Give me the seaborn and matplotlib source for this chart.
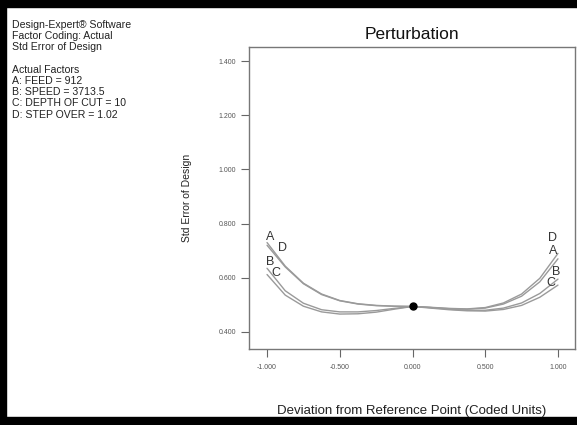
import numpy as np
import pandas as pd
import matplotlib
matplotlib.use("Agg")
import matplotlib.pyplot as plt
import seaborn as sns
from matplotlib.patches import Rectangle

# ---- data ----
deviation = [-1.0, -0.875, -0.75, -0.625, -0.5, -0.375, -0.25, -0.125, 0.0,
             0.125, 0.25, 0.375, 0.5, 0.625, 0.75, 0.875, 1.0]
se_A = [0.730, 0.643, 0.580, 0.540, 0.516, 0.504, 0.498, 0.495, 0.494,
        0.490, 0.486, 0.484, 0.488, 0.503, 0.532, 0.585, 0.670]
se_B = [0.635, 0.552, 0.506, 0.482, 0.474, 0.474, 0.479, 0.487, 0.494,
        0.490, 0.484, 0.480, 0.480, 0.488, 0.507, 0.542, 0.595]
se_C = [0.612, 0.536, 0.495, 0.474, 0.466, 0.467, 0.473, 0.484, 0.494,
        0.488, 0.482, 0.478, 0.477, 0.483, 0.498, 0.528, 0.573]
se_D = [0.720, 0.640, 0.578, 0.538, 0.515, 0.503, 0.497, 0.495, 0.494,
        0.491, 0.487, 0.485, 0.490, 0.507, 0.540, 0.598, 0.690]
factors = ["A", "B", "C", "D"]
ref_point = (0.0, 0.494)
y_ticks = [0.4, 0.6, 0.8, 1.0, 1.2, 1.4]
x_ticks = [-1.0, -0.5, 0.0, 0.5, 1.0]
info_lines = ["Design-Expert\u00ae Software", "Factor Coding: Actual", "Std Error of Design",
              "", "Actual Factors", "A: FEED = 912", "B: SPEED = 3713.5",
              "C: DEPTH OF CUT = 10", "D: STEP OVER = 1.02"]

series = {"A": se_A, "B": se_B, "C": se_C, "D": se_D}
df = pd.concat([pd.DataFrame({"Deviation": deviation, "SE": v, "Factor": k})
                for k, v in series.items()], ignore_index=True)

sns.set_style("white")
plt.rcParams["font.family"] = ["Liberation Sans", "DejaVu Sans"]

fig = plt.figure(figsize=(5.77, 4.25), dpi=100)
ax = fig.add_axes([249/577, 1-349/425, (575-249)/577, (349-47)/425])

sns.lineplot(data=df, x="Deviation", y="SE", hue="Factor", ax=ax,
             palette={f: "#9a9a9a" for f in factors}, linewidth=1.0,
             legend=False, sort=True)
ax.plot([ref_point[0]], [ref_point[1]], "o", color="black", ms=5, zorder=5)

# end labels
offsets_left = {"A": (3, 6), "D": (15, -3), "B": (3, 6), "C": (9, 2)}
offsets_right = {"D": (-5, 15), "A": (-5, 8), "B": (-2, 7), "C": (-7, 2)}
for f in factors:
    v = series[f]
    ax.annotate(f, (deviation[0], v[0]), xytext=offsets_left[f], textcoords="offset pixels",
                ha="center", va="center", fontsize=9, color="#333333")
    ax.annotate(f, (deviation[-1], v[-1]), xytext=offsets_right[f], textcoords="offset pixels",
                ha="center", va="center", fontsize=9, color="#333333")

ax.set_xlim(-1.124, 1.117)
ax.set_ylim(0.337, 1.452)
ax.set_xticks(x_ticks)
ax.set_xticklabels([f"{t:.3f}" for t in x_ticks])
ax.set_yticks(y_ticks)
ax.set_yticklabels([f"{t:.3f}" for t in y_ticks])
ax.tick_params(axis="both", which="major", labelsize=5, labelcolor="#555555",
               color="#666666", length=6, width=0.8, direction="out", left=True, bottom=True)
ax.tick_params(axis="x", pad=5)
for s in ax.spines.values():
    s.set_color("#777777")
    s.set_linewidth(1.0)

ax.set_title("Perturbation", fontsize=12.5, pad=6, color="#111111")
ax.set_xlabel("Deviation from Reference Point (Coded Units)", fontsize=9.5, labelpad=24, color="#222222")
ax.set_ylabel("Std Error of Design", fontsize=7.5, labelpad=19, color="#222222")

# info text block
y0 = 25
for i, line in enumerate(info_lines):
    fig.text(12/577, 1 - (y0 + i*11.2)/425, line, fontsize=7.6, color="#222222",
             ha="left", va="center")

# thick black frame
fig.patches.append(Rectangle((0, 1-7/425), 1, 7/425, transform=fig.transFigure,
                             color="black", zorder=10))
fig.patches.append(Rectangle((0, 0), 6/577, 1, transform=fig.transFigure,
                             color="black", zorder=10))
fig.patches.append(Rectangle((0, 0), 1, 8/425, transform=fig.transFigure,
                             color="black", zorder=10))

fig.savefig("out.png", dpi=100)
